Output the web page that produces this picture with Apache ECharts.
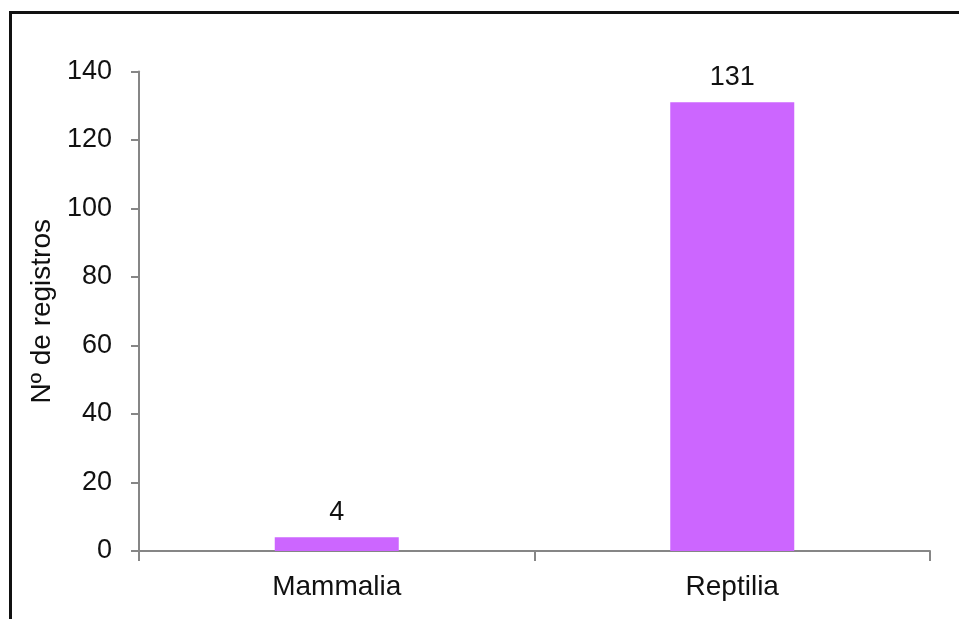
<!DOCTYPE html>
<html>
<head>
<meta charset="utf-8">
<script src="https://cdn.jsdelivr.net/npm/echarts@6/dist/echarts.min.js"></script>
<style>
  html, body { margin: 0; padding: 0; background: #fff; }
  #wrap { position: relative; width: 959px; height: 619px; }
  #frame {
    position: absolute; left: 9px; top: 11px; right: -10px; bottom: -10px;
    border-left: 3px solid #111; border-top: 3px solid #111;
    pointer-events: none;
  }
  #main { position: absolute; left: 0; top: 0; width: 959px; height: 619px; }
</style>
</head>
<body>
<div id="wrap">
  <div id="main"></div>
  <div id="frame"></div>
</div>
<script>
const categories = ['Mammalia', 'Reptilia'];
const registros = [4, 131];
const yAxisName = 'Nº de registros';

const fontFamily = 'Liberation Sans, Arial, sans-serif';
const axisColor = '#868686';

const chart = echarts.init(document.getElementById('main'));

const option = {
    animation: false,
    grid: { left: 139, right: 29, top: 71.5, bottom: 68 },
    xAxis: {
        type: 'category',
        data: categories,
        axisLine: { lineStyle: { color: axisColor, width: 2 } },
        axisTick: { show: true, inside: false, length: 10, lineStyle: { color: axisColor, width: 2 } },
        axisLabel: { color: '#111', fontSize: 28, fontFamily: fontFamily, margin: 22 }
    },
    yAxis: {
        type: 'value',
        min: 0,
        max: 140,
        interval: 20,
        name: yAxisName,
        nameLocation: 'middle',
        nameGap: 76,
        nameTextStyle: { color: '#111', fontSize: 28, fontFamily: fontFamily },
        splitLine: { show: false },
        axisLine: { show: true, lineStyle: { color: axisColor, width: 2 } },
        axisTick: { show: true, length: 8, lineStyle: { color: axisColor, width: 2 } },
        axisLabel: { color: '#111', fontSize: 27, fontFamily: fontFamily, margin: 27 }
    },
    series: [
        {
            type: 'bar',
            data: registros,
            barWidth: 124,
            itemStyle: { color: '#CC66FF' },
            label: {
                show: true,
                position: 'top',
                distance: 11,
                color: '#111',
                fontSize: 27,
                fontFamily: fontFamily
            }
        }
    ]
};

chart.setOption(option);
</script>
</body>
</html>
